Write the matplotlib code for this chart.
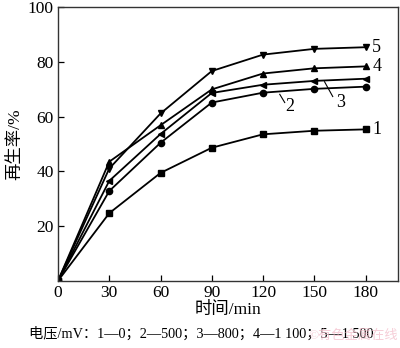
import matplotlib.pyplot as plt

plt.rcParams['font.family'] = ['Liberation Serif', 'Noto Sans CJK SC']
plt.rcParams['font.size'] = 12

# 再生率 vs time, one curve per applied voltage
time_min = [0, 30, 60, 90, 120, 150, 180]
rate_1 = [0, 24.7, 39.4, 48.6, 53.5, 54.8, 55.3]   # 0 mV
rate_2 = [0, 32.8, 50.4, 65.1, 68.7, 70.1, 70.9]   # 500 mV
rate_3 = [0, 36.5, 53.6, 68.6, 71.6, 73.0, 73.8]   # 800 mV
rate_4 = [0, 43.5, 56.8, 69.9, 75.7, 77.6, 78.3]   # 1 100 mV
rate_5 = [0, 41.0, 61.1, 76.6, 82.6, 84.7, 85.3]   # 1 500 mV
curve_ids = ['1', '2', '3', '4', '5']
markers = ['s', 'o', '<', '^', 'v']

x_ticks = [0, 30, 60, 90, 120, 150, 180]
y_ticks = [20, 40, 60, 80, 100]

fig = plt.figure(figsize=(4.0, 3.48), dpi=100)
ax = fig.add_axes([0.145, 0.193, 0.85, 0.787])

series = [rate_1, rate_2, rate_3, rate_4, rate_5]
for vals, m in zip(series, markers):
    ax.plot(time_min, vals, color='black', lw=1.3, marker=m, ms=4.5,
            mfc='black', mec='black')

ax.set_xlim(0, 199)
ax.set_ylim(0, 100)
ax.set_xticks(x_ticks)
ax.set_yticks(y_ticks)
ax.tick_params(direction='in', length=4, width=0.9, labelsize=12.5, pad=3)
for sp in ax.spines.values():
    sp.set_linewidth(1.0)
    sp.set_color('#333333')

ax.set_xlabel('时间/min', fontsize=12.5, labelpad=1)
ax.set_ylabel('再生率/%', fontsize=12.5, labelpad=3)

# curve numbers at the right end
ax.text(184, rate_5[-1], curve_ids[4], fontsize=13, va='center')
ax.text(184, rate_4[-1], curve_ids[3], fontsize=13, va='center')
ax.text(184, rate_1[-1], curve_ids[0], fontsize=13, va='center')
# leader lines for 2 and 3
ax.plot([129.8, 132.7], [68.1, 65.1], color='black', lw=0.8)
ax.text(135.7, 63.6, curve_ids[1], fontsize=13, ha='center', va='center')
ax.plot([156, 160.8], [72.7, 67.3], color='black', lw=0.8)
ax.text(165.3, 65.0, curve_ids[2], fontsize=13, ha='center', va='center')

fig.text(0.072, 0.04, '电压/mV：1—0；2—500；3—800；4—1 100；5—1 500',
         fontsize=10.3, va='center')
fig.text(0.77, 0.035, '©有色金属在线', fontsize=9.5, va='center',
         color='#f2b8c6', alpha=0.7)

fig.savefig('out.png', dpi=100)
